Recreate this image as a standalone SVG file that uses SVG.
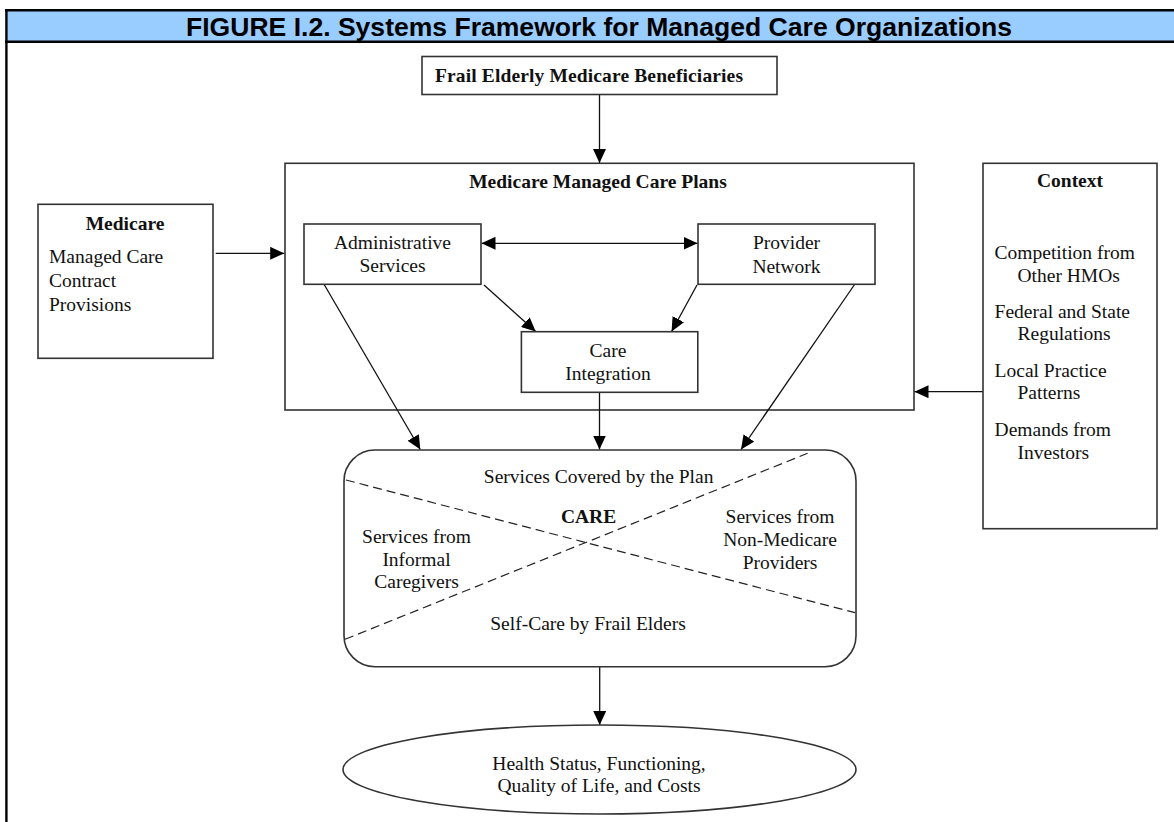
<svg xmlns="http://www.w3.org/2000/svg" width="1174" height="822" viewBox="0 0 1174 822">
  <style>
    .frame { stroke: #000; stroke-width: 2.4; fill: none; }
    .box { fill: #fff; stroke: #333; stroke-width: 1.6; }
    .open { fill: none; }
    .t { font-family: "Liberation Serif", "Times New Roman", serif; font-size: 19.5px; fill: #111; }
    .b { font-weight: bold; }
    .c { text-anchor: middle; }
    .ln { stroke: #111; stroke-width: 1.3; fill: none; }
    .arr { marker-end: url(#ah); }
    .both { marker-start: url(#ahs); marker-end: url(#ah); }
    .dash { stroke: #222; stroke-width: 1.2; stroke-dasharray: 9 5; fill: none; }
    .title { font-family: "Liberation Sans", Arial, sans-serif; font-size: 25.5px; font-weight: bold; fill: #000; text-anchor: middle; }
  </style>
  <defs>
    <marker id="ah" markerUnits="userSpaceOnUse" markerWidth="14" markerHeight="13" viewBox="0 0 14 13" refX="14" refY="6.5" orient="auto">
      <path d="M0,0 L14,6.5 L0,13 Z" fill="#000"/>
    </marker>
    <marker id="ahs" markerUnits="userSpaceOnUse" markerWidth="14" markerHeight="13" viewBox="0 0 14 13" refX="14" refY="6.5" orient="auto-start-reverse">
      <path d="M0,0 L14,6.5 L0,13 Z" fill="#000"/>
    </marker>
  </defs>

  <rect width="1174" height="822" fill="#fff"/>

  <!-- page frame and title bar -->
  <g id="title-bar">
    <rect x="6" y="10.3" width="1170" height="31.4" fill="#99CCFF"/>
    <line class="frame" x1="5" y1="10.3" x2="1174" y2="10.3"/>
    <line class="frame" x1="5" y1="41.7" x2="1174" y2="41.7"/>
    <line class="frame" x1="6.4" y1="9" x2="6.4" y2="822"/>
    <text class="title" x="599" y="36" textLength="826" lengthAdjust="spacingAndGlyphs">FIGURE I.2. Systems Framework for Managed Care Organizations</text>
  </g>

  <!-- the plan box is only an outline, so it goes under the arrows -->
  <g id="managed-care-plans">
    <rect class="box open" x="285" y="163.3" width="629" height="246.7"/>
    <text class="t b c" x="598" y="188">Medicare Managed Care Plans</text>
  </g>

  <!-- connectors -->
  <g id="connectors">
    <line class="ln arr" x1="599.5" y1="94.5" x2="599.5" y2="163"/>
    <line class="ln arr" x1="215.7" y1="253.3" x2="284.2" y2="253.3"/>
    <line class="ln both" x1="481.5" y1="243.3" x2="697.5" y2="243.3"/>
    <line class="ln arr" x1="983" y1="391.7" x2="914.5" y2="391.7"/>
    <line class="ln arr" x1="484" y1="285" x2="535.7" y2="331.5"/>
    <line class="ln arr" x1="697" y1="285" x2="671.6" y2="331.5"/>
    <line class="ln arr" x1="323" y1="282.5" x2="420.3" y2="449.5"/>
    <line class="ln arr" x1="855.6" y1="283" x2="741" y2="449.5"/>
    <line class="ln arr" x1="599.5" y1="392.5" x2="599.5" y2="449.5"/>
    <line class="ln arr" x1="599.7" y1="667" x2="599.7" y2="725"/>
  </g>

  <g id="frail-elderly">
    <rect class="box" x="422" y="56.5" width="355" height="38"/>
    <text class="t b" x="435" y="82" textLength="308">Frail Elderly Medicare Beneficiaries</text>
  </g>

  <g id="administrative-services">
    <rect class="box" x="304" y="224" width="177" height="60.3"/>
    <text class="t c" x="392.5" y="249">Administrative</text>
    <text class="t c" x="392.5" y="272">Services</text>
  </g>

  <g id="provider-network">
    <rect class="box" x="698" y="224" width="177" height="60.3"/>
    <text class="t c" x="786.5" y="249">Provider</text>
    <text class="t c" x="786.5" y="272.5">Network</text>
  </g>

  <g id="care-integration">
    <rect class="box" x="521.4" y="331.7" width="176.4" height="60.6"/>
    <text class="t c" x="608" y="356.7">Care</text>
    <text class="t c" x="608" y="380">Integration</text>
  </g>

  <g id="medicare">
    <rect class="box" x="38" y="204.3" width="175" height="154"/>
    <text class="t b c" x="125" y="230">Medicare</text>
    <text class="t" x="49" y="263">Managed Care</text>
    <text class="t" x="49" y="287">Contract</text>
    <text class="t" x="49" y="311">Provisions</text>
  </g>

  <g id="context">
    <rect class="box" x="983" y="163.3" width="174" height="365.4"/>
    <text class="t b c" x="1070" y="187">Context</text>
    <text class="t" x="994.6" y="259">Competition from</text>
    <text class="t" x="1017.5" y="282">Other HMOs</text>
    <text class="t" x="994.6" y="318">Federal and State</text>
    <text class="t" x="1017.5" y="340">Regulations</text>
    <text class="t" x="994.6" y="377">Local Practice</text>
    <text class="t" x="1017.5" y="399">Patterns</text>
    <text class="t" x="994.6" y="436">Demands from</text>
    <text class="t" x="1017.5" y="459">Investors</text>
  </g>

  <g id="care">
    <rect class="box" x="344" y="450" width="512" height="216.7" rx="31" ry="31"/>
    <line class="dash" x1="346" y1="480" x2="855" y2="612.7"/>
    <line class="dash" x1="345" y1="639.3" x2="807.6" y2="453.3"/>
    <text class="t c" x="598.6" y="483">Services Covered by the Plan</text>
    <text class="t b c" x="588.6" y="522.7">CARE</text>
    <text class="t c" x="416.5" y="542.7">Services from</text>
    <text class="t c" x="416.5" y="565.7">Informal</text>
    <text class="t c" x="416.5" y="588.3">Caregivers</text>
    <text class="t c" x="780" y="523.3">Services from</text>
    <text class="t c" x="780" y="546">Non-Medicare</text>
    <text class="t c" x="780" y="569">Providers</text>
    <text class="t c" x="588" y="630">Self-Care by Frail Elders</text>
  </g>

  <g id="outcomes">
    <ellipse class="box" cx="599.5" cy="769.5" rx="256.5" ry="44.5"/>
    <text class="t c" x="599" y="770">Health Status, Functioning,</text>
    <text class="t c" x="599" y="792">Quality of Life, and Costs</text>
  </g>
</svg>
